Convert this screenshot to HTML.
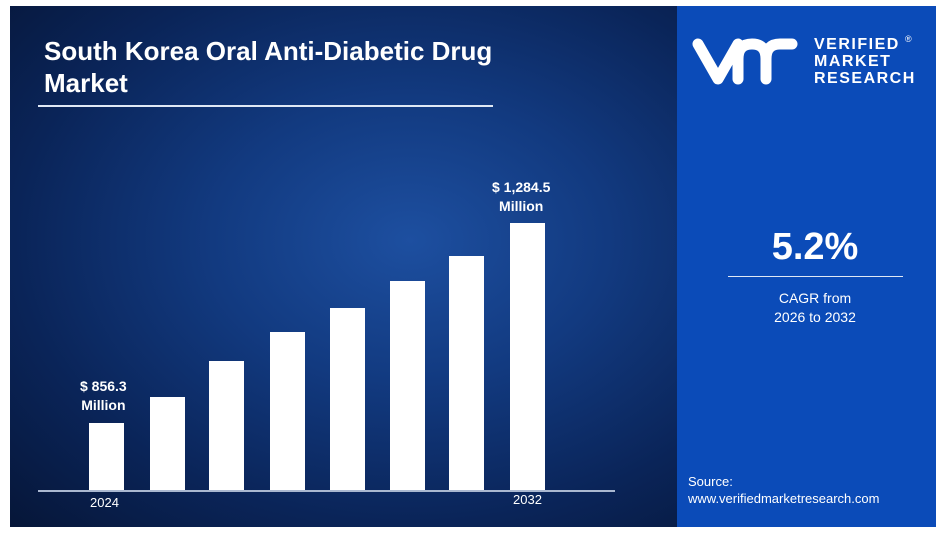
<!DOCTYPE html>
<html><head><meta charset="utf-8"><style>
body{margin:0;width:952px;height:538px;background:#fff;overflow:hidden;font-family:"Liberation Sans",sans-serif;position:relative}
.l{position:absolute;left:10px;top:6px;width:667px;height:521px;background:radial-gradient(ellipse at 60% 45%,#1d4fa0 0%,#123a80 35%,#0a2458 70%,#061638 100%)}
.r{position:absolute;left:677px;top:6px;width:259px;height:521px;background:#0b4bb8}
.t{position:absolute;color:#fff;white-space:nowrap}
.bar{position:absolute;background:#fff;width:35px}
</style></head><body>
<div class="l"></div><div class="r"></div>
<div class="t" style="left:44px;top:35px;font-size:26px;font-weight:bold;line-height:32px">South Korea Oral Anti-Diabetic Drug<br>Market</div>
<div style="position:absolute;left:38px;top:105px;width:455px;height:2px;background:#dfe8f5"></div>
<div class="bar" style="left:89px;top:423px;height:68px"></div>
<div class="bar" style="left:150px;top:397px;height:94px"></div>
<div class="bar" style="left:209px;top:361px;height:130px"></div>
<div class="bar" style="left:270px;top:332px;height:159px"></div>
<div class="bar" style="left:330px;top:308px;height:183px"></div>
<div class="bar" style="left:390px;top:281px;height:210px"></div>
<div class="bar" style="left:449px;top:256px;height:235px"></div>
<div class="bar" style="left:510px;top:223px;height:268px"></div>
<div style="position:absolute;left:38px;top:490px;width:577px;height:2px;background:#aab8d0"></div>
<div class="t" style="left:80px;top:377px;font-size:14px;font-weight:bold;text-align:center;line-height:19px">$ 856.3<br>Million</div>
<div class="t" style="left:492px;top:178px;font-size:14px;font-weight:bold;text-align:center;line-height:19px">$ 1,284.5<br>Million</div>
<div class="t" style="left:90px;top:495px;font-size:13px">2024</div>
<div class="t" style="left:513px;top:492px;font-size:13px">2032</div>
<svg style="position:absolute;left:690px;top:34px" width="115" height="55"><path d="M8 10 L28 45 L48 10 M48 45 L48 25 Q48 10 62 10 Q76 10 76 25 L76 45 M76 25 Q76 10 90 10 L102 10" fill="none" stroke="#fff" stroke-width="11" stroke-linecap="round" stroke-linejoin="round"/></svg>
<div class="t" style="left:814px;top:36px;font-size:16px;font-weight:bold;line-height:17px;letter-spacing:1.5px">VERIFIED<br>MARKET<br>RESEARCH</div>
<div class="t" style="left:905px;top:34px;font-size:9px">®</div>
<div class="t" style="left:727px;top:226px;width:176px;text-align:center;font-size:38px;font-weight:bold">5.2%</div>
<div style="position:absolute;left:728px;top:276px;width:175px;height:1px;background:#dfe8f5"></div>
<div class="t" style="left:727px;top:289px;width:176px;text-align:center;font-size:14px;line-height:19px">CAGR from<br>2026 to 2032</div>
<div class="t" style="left:688px;top:473px;font-size:13px;line-height:17px">Source:<br>www.verifiedmarketresearch.com</div>
</body></html>
